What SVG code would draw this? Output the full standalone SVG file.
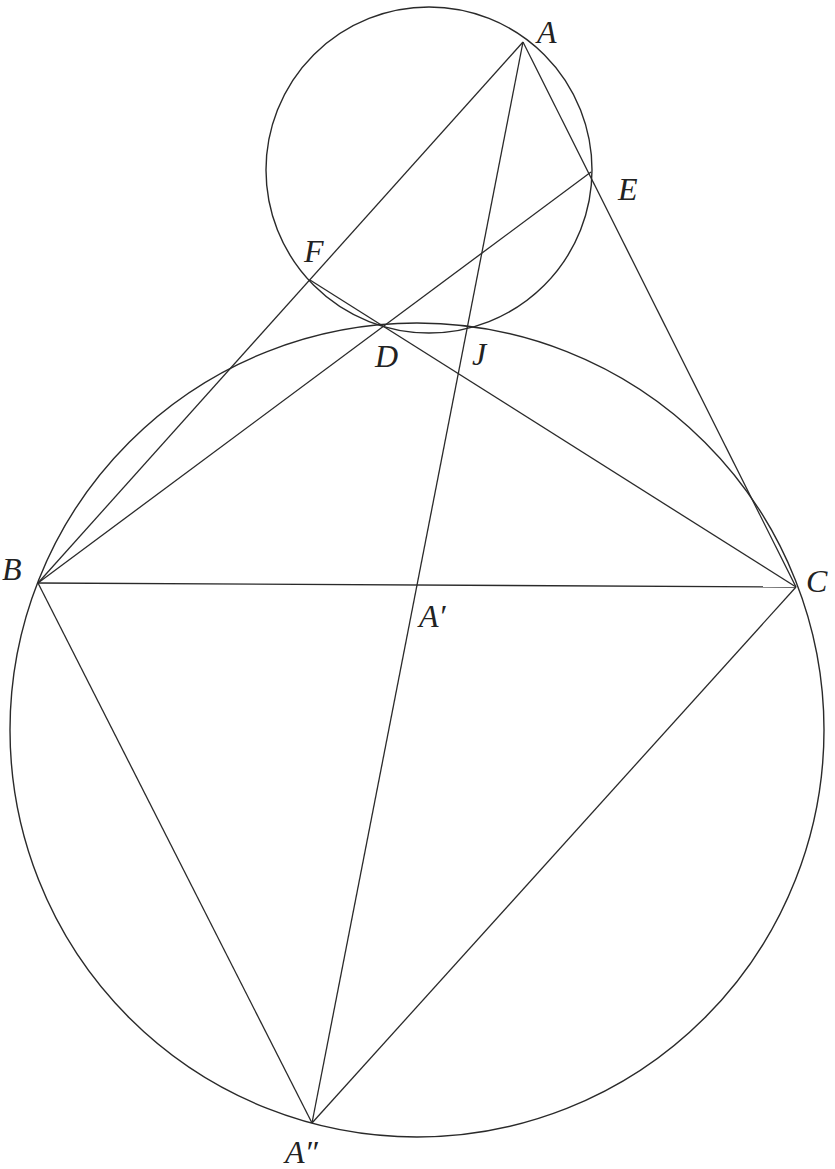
<svg xmlns="http://www.w3.org/2000/svg" width="835" height="1169" viewBox="0 0 835 1169">
<style>
.c{fill:none;stroke:#2a2a2a;stroke-width:1.4}
.l{stroke:#2a2a2a;stroke-width:1.3;fill:none}
.t{font-family:"Liberation Serif","DejaVu Serif",serif;font-style:italic;font-size:32px;fill:#222}
</style>
<rect width="835" height="1169" fill="#fff"/>
<g id="circles">
<circle id="small-circle" class="c" cx="429" cy="170" r="163"/>
<circle id="big-circle" class="c" cx="417" cy="730" r="407"/>
</g>
<g id="connectors">
<line class="l" x1="523" y1="42" x2="38" y2="583"/>
<line class="l" x1="523" y1="42" x2="796" y2="587"/>
<line class="l" x1="523" y1="42" x2="312" y2="1123"/>
<line class="l" x1="38" y1="583" x2="796" y2="587"/>
<line class="l" x1="38" y1="583" x2="312" y2="1123"/>
<line class="l" x1="796" y1="587" x2="312" y2="1123"/>
<line class="l" x1="38" y1="583" x2="591" y2="172"/>
<line class="l" x1="310" y1="280" x2="796" y2="587"/>
</g>
<g id="A"><text class="t" x="537" y="43">A</text></g>
<g id="E"><text class="t" x="618" y="200">E</text></g>
<g id="F"><text class="t" x="304" y="262">F</text></g>
<g id="D"><text class="t" x="375" y="367">D</text></g>
<g id="J"><text class="t" x="472" y="365">J</text></g>
<g id="B"><text class="t" x="2" y="580">B</text></g>
<g id="C"><text class="t" x="806" y="592">C</text></g>
<g id="A1"><text class="t" x="419" y="627">A′</text></g>
<g id="A2"><text class="t" x="285" y="1163">A″</text></g>
</svg>
